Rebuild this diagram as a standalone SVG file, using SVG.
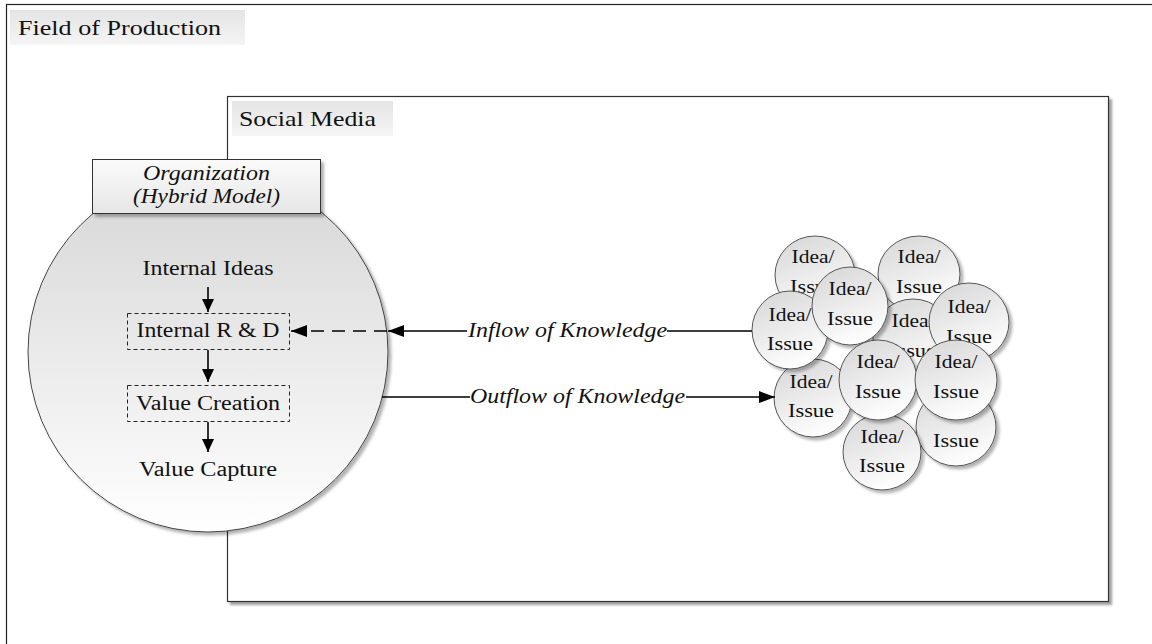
<svg xmlns="http://www.w3.org/2000/svg" width="1152" height="644" viewBox="0 0 1152 644">
  <defs>
    <linearGradient id="labelFill" x1="0" y1="0" x2="0" y2="1">
      <stop offset="0" stop-color="#e4e4e4"/>
      <stop offset="1" stop-color="#f5f5f5"/>
    </linearGradient>
    <linearGradient id="orgFill" x1="0" y1="0" x2="0" y2="1">
      <stop offset="0" stop-color="#fbfbfb"/>
      <stop offset="1" stop-color="#e6e6e6"/>
    </linearGradient>
    <linearGradient id="bigFill" x1="0" y1="0" x2="0" y2="1">
      <stop offset="0" stop-color="#d6d6d6"/>
      <stop offset="0.55" stop-color="#ececec"/>
      <stop offset="1" stop-color="#ffffff"/>
    </linearGradient>
    <linearGradient id="ideaFill" x1="0.2" y1="0" x2="0.6" y2="1">
      <stop offset="0" stop-color="#d8d8d8"/>
      <stop offset="1" stop-color="#ffffff"/>
    </linearGradient>
    <filter id="shadow" x="-10%" y="-10%" width="130%" height="130%">
      <feDropShadow dx="3" dy="3" stdDeviation="1.5" flood-color="#000" flood-opacity="0.3"/>
    </filter>
    <filter id="boxShadow" x="-5%" y="-5%" width="110%" height="110%">
      <feDropShadow dx="3" dy="3" stdDeviation="0.8" flood-color="#555" flood-opacity="0.55"/>
    </filter>
    <marker id="arrow" viewBox="0 0 16 12" refX="16" refY="6" markerWidth="16" markerHeight="12" markerUnits="userSpaceOnUse" orient="auto">
      <path d="M0,0 L16,6 L0,12 z" fill="#000"/>
    </marker>
    <marker id="arrowSmall" viewBox="0 0 13 12" refX="13" refY="6" markerWidth="13" markerHeight="12" markerUnits="userSpaceOnUse" orient="auto">
      <path d="M0,0 L13,6 L0,12 z" fill="#000"/>
    </marker>
  </defs>
  <style>
    text { font-family: "Liberation Serif", "Times New Roman", serif; fill: #111; }
    .title { font-size: 22px; }
    .inner { font-size: 20px; text-anchor: middle; }
    .ital { font-size: 20px; font-style: italic; text-anchor: middle; }
    .idea { font-size: 19px; text-anchor: middle; }
    .frame { fill: none; stroke: #222; stroke-width: 1.2; }
    .step { fill: none; stroke: #222; stroke-width: 1; stroke-dasharray: 4 3; }
    .bubble { fill: url(#ideaFill); stroke: #555; stroke-width: 1; filter: url(#shadow); }
    .wire { fill: none; stroke: #000; stroke-width: 1.6; }
  </style>

  <!-- outer field, runs past the canvas on the right and bottom -->
  <g id="field">
    <rect class="frame" x="6.5" y="4.5" width="1200" height="700"/>
    <rect x="10" y="10" width="235" height="35" fill="url(#labelFill)"/>
    <text class="title" x="18" y="35" textLength="203" lengthAdjust="spacingAndGlyphs">Field of Production</text>
  </g>

  <!-- social media area -->
  <g id="social-media">
    <rect x="227.5" y="96.5" width="881" height="505" fill="#fff" stroke="#333" stroke-width="1.2" filter="url(#boxShadow)"/>
    <rect x="232" y="101" width="161" height="35" fill="url(#labelFill)"/>
    <text class="title" x="239" y="126" textLength="137" lengthAdjust="spacingAndGlyphs">Social Media</text>
  </g>

  <!-- organization: circle with header box -->
  <g id="organization">
    <circle cx="208" cy="352" r="180" fill="url(#bigFill)" stroke="#444" stroke-width="1" filter="url(#shadow)"/>
    <rect x="92.5" y="159.5" width="228" height="54" fill="url(#orgFill)" stroke="#333" stroke-width="1" filter="url(#shadow)"/>
    <text class="ital" x="206.5" y="180" textLength="127" lengthAdjust="spacingAndGlyphs">Organization</text>
    <text class="ital" x="206.5" y="203" textLength="147" lengthAdjust="spacingAndGlyphs">(Hybrid Model)</text>
  </g>

  <g id="internal-ideas">
    <text class="inner" x="208" y="275" textLength="131" lengthAdjust="spacingAndGlyphs">Internal Ideas</text>
  </g>
  <g id="internal-rd">
    <rect class="step" x="127.5" y="313.5" width="162" height="36"/>
    <text class="inner" x="208" y="337" textLength="143" lengthAdjust="spacingAndGlyphs">Internal R &amp; D</text>
  </g>
  <g id="value-creation">
    <rect class="step" x="127.5" y="385.5" width="162" height="36"/>
    <text class="inner" x="208" y="410" textLength="144" lengthAdjust="spacingAndGlyphs">Value Creation</text>
  </g>
  <g id="value-capture">
    <text class="inner" x="208" y="476" textLength="138" lengthAdjust="spacingAndGlyphs">Value Capture</text>
  </g>

  <!-- cluster of ideas / issues, back to front -->
  <g id="ideas">
    <g id="idea-1"><ellipse class="bubble" cx="815" cy="275" rx="40" ry="39"/>
      <text class="idea" x="813" y="263" textLength="43" lengthAdjust="spacingAndGlyphs">Idea/</text>
      <text class="idea" x="813" y="293" textLength="46" lengthAdjust="spacingAndGlyphs">Issue</text></g>
    <g id="idea-2"><ellipse class="bubble" cx="919" cy="274" rx="41" ry="38"/>
      <text class="idea" x="919" y="263" textLength="43" lengthAdjust="spacingAndGlyphs">Idea/</text>
      <text class="idea" x="919" y="293" textLength="46" lengthAdjust="spacingAndGlyphs">Issue</text></g>
    <g id="idea-3"><ellipse class="bubble" cx="913" cy="338" rx="40" ry="39"/>
      <text class="idea" x="913" y="327" textLength="43" lengthAdjust="spacingAndGlyphs">Idea/</text>
      <text class="idea" x="913" y="357" textLength="46" lengthAdjust="spacingAndGlyphs">Issue</text></g>
    <g id="idea-4"><ellipse class="bubble" cx="969" cy="322" rx="40" ry="39"/>
      <text class="idea" x="969" y="313" textLength="43" lengthAdjust="spacingAndGlyphs">Idea/</text>
      <text class="idea" x="969" y="343" textLength="46" lengthAdjust="spacingAndGlyphs">Issue</text></g>
    <g id="idea-5"><ellipse class="bubble" cx="813" cy="398" rx="39" ry="39"/>
      <text class="idea" x="811" y="388" textLength="43" lengthAdjust="spacingAndGlyphs">Idea/</text>
      <text class="idea" x="811" y="417" textLength="46" lengthAdjust="spacingAndGlyphs">Issue</text></g>
    <g id="idea-6"><ellipse class="bubble" cx="790" cy="330" rx="38" ry="39"/>
      <text class="idea" x="790" y="321" textLength="43" lengthAdjust="spacingAndGlyphs">Idea/</text>
      <text class="idea" x="790" y="350" textLength="46" lengthAdjust="spacingAndGlyphs">Issue</text></g>
    <g id="idea-7"><ellipse class="bubble" cx="850" cy="306" rx="38" ry="39"/>
      <text class="idea" x="850" y="295" textLength="43" lengthAdjust="spacingAndGlyphs">Idea/</text>
      <text class="idea" x="850" y="325" textLength="46" lengthAdjust="spacingAndGlyphs">Issue</text></g>
    <g id="idea-8"><ellipse class="bubble" cx="956" cy="427" rx="40" ry="39"/>
      <text class="idea" x="956" y="447" textLength="46" lengthAdjust="spacingAndGlyphs">Issue</text></g>
    <g id="idea-9"><ellipse class="bubble" cx="882" cy="452" rx="39" ry="38"/>
      <text class="idea" x="882" y="443" textLength="43" lengthAdjust="spacingAndGlyphs">Idea/</text>
      <text class="idea" x="882" y="472" textLength="46" lengthAdjust="spacingAndGlyphs">Issue</text></g>
    <g id="idea-10"><ellipse class="bubble" cx="878" cy="380" rx="39" ry="40"/>
      <text class="idea" x="878" y="368" textLength="43" lengthAdjust="spacingAndGlyphs">Idea/</text>
      <text class="idea" x="878" y="398" textLength="46" lengthAdjust="spacingAndGlyphs">Issue</text></g>
    <g id="idea-11"><ellipse class="bubble" cx="956" cy="380" rx="41" ry="40"/>
      <text class="idea" x="956" y="368" textLength="43" lengthAdjust="spacingAndGlyphs">Idea/</text>
      <text class="idea" x="956" y="398" textLength="46" lengthAdjust="spacingAndGlyphs">Issue</text></g>
  </g>

  <!-- connectors -->
  <g id="connectors">
    <line class="wire" x1="208" y1="287" x2="208" y2="312" marker-end="url(#arrowSmall)"/>
    <line class="wire" x1="208" y1="350" x2="208" y2="382" marker-end="url(#arrowSmall)"/>
    <line class="wire" x1="208" y1="422" x2="208" y2="452" marker-end="url(#arrowSmall)"/>
    <!-- inflow: solid from the cluster to the organization edge, dashed on to R & D -->
    <line class="wire" x1="752" y1="331" x2="667" y2="331"/>
    <line class="wire" x1="467" y1="331" x2="388" y2="331" marker-end="url(#arrow)"/>
    <line class="wire" x1="387" y1="331" x2="291" y2="331" stroke-width="2" stroke-dasharray="13 8" marker-end="url(#arrow)"/>
    <text class="ital" x="567.5" y="337" textLength="199" lengthAdjust="spacingAndGlyphs">Inflow of Knowledge</text>
    <!-- outflow -->
    <line class="wire" x1="382" y1="397" x2="470" y2="397"/>
    <line class="wire" x1="686" y1="397" x2="775" y2="397" marker-end="url(#arrow)"/>
    <text class="ital" x="577.5" y="403" textLength="215" lengthAdjust="spacingAndGlyphs">Outflow of Knowledge</text>
  </g>
</svg>
